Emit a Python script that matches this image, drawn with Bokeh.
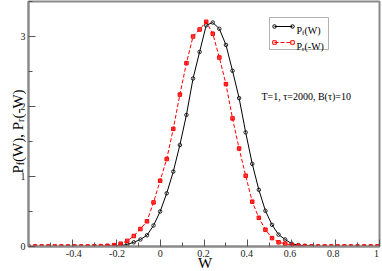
import math
from bokeh.plotting import figure
from bokeh.layouts import row, column
from bokeh.models import (Range1d, FixedTicker, Label, BoxAnnotation)
from bokeh.embed import file_html
from bokeh.resources import INLINE

# ---------------- data ----------------
W = [-0.60, -0.57, -0.54, -0.51, -0.48, -0.45, -0.42, -0.39, -0.36, -0.33,
     -0.30, -0.27, -0.24, -0.21, -0.18, -0.15, -0.12, -0.09, -0.06, -0.03,
     0.00, 0.03, 0.06, 0.09, 0.12, 0.15, 0.18, 0.21, 0.24, 0.27,
     0.30, 0.33, 0.36, 0.39, 0.42, 0.45, 0.48, 0.51, 0.54, 0.57,
     0.60, 0.63, 0.66, 0.69, 0.72, 0.75, 0.78, 0.81, 0.84, 0.87,
     0.90, 0.93, 0.96, 0.99]

Pf = [0, 0, 0, 0, 0, 0, 0, 0, 0, 0,
      0, 0, 0.002, 0.005, 0.012, 0.03, 0.06, 0.10, 0.16, 0.30,
      0.50, 0.76, 1.07, 1.45, 1.88, 2.40, 2.78, 3.16, 3.20, 3.11,
      2.88, 2.51, 2.12, 1.63, 1.18, 0.81, 0.51, 0.31, 0.17, 0.10,
      0.04, 0.02, 0.01, 0.003, 0, 0, 0, 0, 0, 0,
      0, 0, 0, 0]

Pr = [0, 0, 0, 0, 0, 0, 0, 0, 0, 0,
      0.002, 0.005, 0.01, 0.02, 0.04, 0.08, 0.15, 0.25, 0.36, 0.63,
      0.94, 1.25, 1.68, 2.17, 2.62, 3.00, 3.10, 3.21, 3.04, 2.70,
      2.32, 1.83, 1.40, 1.01, 0.64, 0.41, 0.24, 0.12, 0.06, 0.04,
      0.02, 0.01, 0.005, 0, 0, 0, 0, 0, 0, 0,
      0, 0, 0, 0]

x_major = [-0.4, -0.2, 0, 0.2, 0.4, 0.6, 0.8, 1.0]
x_minor = [-0.5, -0.3, -0.1, 0.1, 0.3, 0.5, 0.7, 0.9]
y_major = [0, 1, 2, 3]
y_minor = [0.5, 1.5, 2.5, 3.5]

# ---------------- layout (page pixels) ----------------
TOTAL_W, TOTAL_H = 382, 271
STRIP_L = 26          # left strip: y title + y tick labels
MAIN_H = 248          # main plot height; the bottom strip holds x tick labels + x title
FL, FR, FT, FB = 28, 379, 1, 246   # frame edges, page pixels
XMIN, XMAX, YMIN, YMAX = -0.6, 1.0, 0.0, 3.5

def dx(px):
    return XMIN + (px - FL) * (XMAX - XMIN) / (FR - FL)

def dy(py):
    return YMIN + (FB - py) * (YMAX - YMIN) / (FB - FT)

def px_of(v):
    return FL + (v - XMIN) * (FR - FL) / (XMAX - XMIN)

def py_of(v):
    return FB - (v - YMIN) * (FB - FT) / (YMAX - YMIN)

def tick_text(v):
    return f"{v:g}"

SERIF = "Liberation Serif"

p = figure(width=TOTAL_W - STRIP_L, height=MAIN_H, output_backend="svg",
           toolbar_location=None,
           x_range=Range1d(XMIN, XMAX), y_range=Range1d(YMIN, YMAX),
           min_border_left=FL - STRIP_L, min_border_right=TOTAL_W - FR,
           min_border_top=FT, min_border_bottom=MAIN_H - FB)
p.background_fill_color = "white"
p.border_fill_color = "white"
p.grid.visible = False
p.outline_line_color = "#8a8a8a"
p.outline_line_width = 2

for ax, maj, mnr in ((p.xaxis[0], x_major, x_minor), (p.yaxis[0], y_major, y_minor)):
    ax.ticker = FixedTicker(ticks=maj, minor_ticks=mnr)
    ax.axis_line_color = "#8a8a8a"
    ax.axis_line_width = 2
    ax.major_tick_in = 7
    ax.major_tick_out = 0
    ax.minor_tick_in = 4
    ax.minor_tick_out = 0
    ax.major_tick_line_color = "#555555"
    ax.minor_tick_line_color = "#555555"
    # tick labels are drawn in the side strips
    ax.major_label_text_color = None
    ax.major_label_text_font_size = "1px"
    ax.major_label_standoff = 0
    ax.axis_label = None

# ---------------- data series ----------------
p.line(W, Pf, line_color="black", line_width=1)
p.scatter(W, Pf, marker="circle", size=3.5, line_color="#222222", fill_color=None, line_width=1)
p.line(W, Pr, line_color="red", line_width=1, line_dash="4 2")
p.scatter(W, Pr, marker="square", size=3.5, line_color="red", fill_color="red", fill_alpha=0.7)

# ---------------- legend (drawn by hand to get subscripts) ----------------
p.add_layout(BoxAnnotation(left=dx(269), right=dx(328), top=dy(17), bottom=dy(49),
                           fill_color="white", fill_alpha=1.0, level="underlay",
                           line_color="black", line_width=1))
p.line([dx(274), dx(292)], [dy(26), dy(26)], line_color="black", line_width=1)
p.scatter([dx(274), dx(292)], [dy(26), dy(26)], marker="circle", size=3.5,
          line_color="black", fill_color=None)
p.line([dx(274), dx(292)], [dy(42), dy(42)], line_color="red", line_width=1, line_dash="4 2")
p.scatter([dx(274), dx(292)], [dy(42), dy(42)], marker="square", size=3.5,
          line_color="red", fill_color=None)

def lab(fig, text, x, y, size, angle=0.0, align="left", baseline="alphabetic",
        color="black"):
    fig.add_layout(Label(x=x, y=y, text=text, text_font=SERIF,
                         text_font_size=f"{size}px", text_align=align,
                         text_baseline=baseline, angle=angle, text_color=color))

lab(p, "P", dx(296), dy(30), 10)
lab(p, "f", dx(301.6), dy(32.5), 7)
lab(p, "(W)", dx(304), dy(30), 10)
lab(p, "P", dx(296), dy(46), 10)
lab(p, "r", dx(301.6), dy(48.5), 7)
lab(p, "(-W)", dx(304), dy(46), 10)

# annotation
lab(p, "T=1, \u03c4=2000, B(\u03c4)=10", dx(261), dy(96), 10)

def strip(w, h, x0, x1, y0, y1):
    f = figure(width=w, height=h, output_backend="svg", toolbar_location=None,
               x_range=Range1d(x0, x1), y_range=Range1d(y1, y0),
               x_axis_type=None, y_axis_type=None, min_border=0)
    f.outline_line_color = None
    f.grid.visible = False
    f.background_fill_color = "white"
    f.border_fill_color = "white"
    return f

# ---------------- left strip (page pixel coordinates) ----------------
t = strip(STRIP_L, TOTAL_H, 0, STRIP_L, 0, TOTAL_H)
A = math.pi / 2
BL, SB = 17.5, 20.0   # baselines of main text and subscripts
lab(t, "P", BL, 173, 15, angle=A)
lab(t, "f", SB, 164.7, 10, angle=A)
lab(t, "(W), P", BL, 161.4, 15, angle=A)
lab(t, "r", SB, 121.4, 10, angle=A)
lab(t, "(-W)", BL, 118.1, 15, angle=A)
for v in y_major:
    lab(t, tick_text(v), 25, py_of(v), 10, align="right", baseline="middle", color="#222222")

# ---------------- bottom strip ----------------
b = strip(TOTAL_W - STRIP_L, TOTAL_H - MAIN_H, STRIP_L, TOTAL_W, MAIN_H, TOTAL_H)
for v in x_major:
    lab(b, tick_text(v), px_of(v), 249.5, 10, align="center", baseline="top", color="#222222")
lab(b, "W", 205, 262.5, 15, align="center", baseline="middle")

layout = row(t, column(p, b, spacing=0), spacing=0)
open("out.html", "w").write(file_html(layout, INLINE))
